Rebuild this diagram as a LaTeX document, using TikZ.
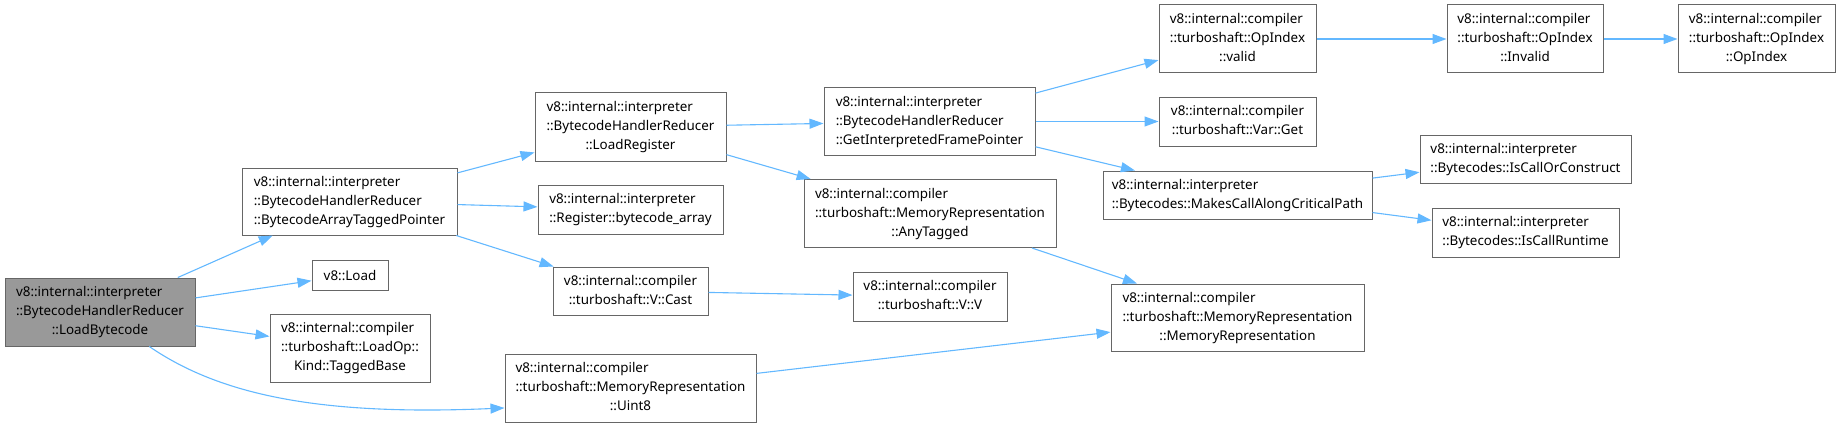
\documentclass[tikz,border=0pt]{standalone}
\usepackage{fontspec}
\setmainfont{Noto Sans}
\usepackage{tikz}
\usetikzlibrary{arrows.meta}

\definecolor{edgeblue}{HTML}{63B8FF}
\definecolor{boxgray}{HTML}{666666}
\definecolor{rootgray}{HTML}{999999}

% doxygen style label: left lines, last line centred
\newcommand{\fnlabel}[2]{\begin{tabular}{@{}l@{}}#1\\\multicolumn{1}{@{}c@{}}{#2}\end{tabular}}

\begin{document}
\begin{tikzpicture}[x=1pt, y=-1pt,
        fn/.style={draw=boxgray, line width=1pt, fill=white, inner sep=0pt,
            font=\fontsize{13.4}{19}\selectfont},
        root/.style={fill=rootgray},
        call/.style={->, draw=edgeblue, line width=1.1pt},
        >={Triangle[length=14pt, width=10pt]}]
        \useasboundingbox (0,0) rectangle (1840,428);

        % first column
        \node[fn, root, minimum width=190pt, minimum height=68pt] (lb) at (100,312)
            {\fnlabel{v8::internal::interpreter\\::BytecodeHandlerReducer}{::LoadBytecode}};

        % second column
        \node[fn, minimum width=215pt, minimum height=67pt] (batp) at (349.5,201.5)
            {\fnlabel{v8::internal::interpreter\\::BytecodeHandlerReducer}{::BytecodeArrayTaggedPointer}};
        \node[fn, minimum width=76pt, minimum height=30pt] (load) at (350,275) {v8::Load};
        \node[fn, minimum width=160pt, minimum height=68pt] (kind) at (350,348)
            {\fnlabel{v8::internal::compiler\\::turboshaft::LoadOp::}{Kind::TaggedBase}};

        % third column
        \node[fn, minimum width=191pt, minimum height=68pt] (lreg) at (630.5,127)
            {\fnlabel{v8::internal::interpreter\\::BytecodeHandlerReducer}{::LoadRegister}};
        \node[fn, minimum width=185pt, minimum height=49pt] (barr) at (630.5,209.5)
            {\fnlabel{v8::internal::interpreter}{::Register::bytecode\_array}};
        \node[fn, minimum width=155pt, minimum height=48pt] (vcast) at (630.5,291)
            {\fnlabel{v8::internal::compiler}{::turboshaft::V::Cast}};
        \node[fn, minimum width=251pt, minimum height=68pt] (uint8) at (630.5,388)
            {\fnlabel{v8::internal::compiler\\::turboshaft::MemoryRepresentation}{::Uint8}};

        % fourth column
        \node[fn, minimum width=211pt, minimum height=67pt] (gifp) at (929.5,121.5)
            {\fnlabel{v8::internal::interpreter\\::BytecodeHandlerReducer}{::GetInterpretedFramePointer}};
        \node[fn, minimum width=252pt, minimum height=68pt] (anyt) at (930,213.5)
            {\fnlabel{v8::internal::compiler\\::turboshaft::MemoryRepresentation}{::AnyTagged}};
        \node[fn, minimum width=154pt, minimum height=49pt] (vv) at (930,296.5)
            {\fnlabel{v8::internal::compiler}{::turboshaft::V::V}};

        % fifth column
        \node[fn, minimum width=157pt, minimum height=68pt] (valid) at (1237.5,39)
            {\fnlabel{v8::internal::compiler\\::turboshaft::OpIndex}{::valid}};
        \node[fn, minimum width=157pt, minimum height=49pt] (vget) at (1237.5,121.5)
            {\fnlabel{v8::internal::compiler}{::turboshaft::Var::Get}};
        \node[fn, minimum width=269pt, minimum height=48pt] (mcacp) at (1237.5,195)
            {\fnlabel{v8::internal::interpreter}{::Bytecodes::MakesCallAlongCriticalPath}};
        \node[fn, minimum width=253pt, minimum height=67pt] (mrep) at (1237.5,317.5)
            {\fnlabel{v8::internal::compiler\\::turboshaft::MemoryRepresentation}{::MemoryRepresentation}};

        % sixth and seventh columns
        \node[fn, minimum width=156pt, minimum height=68pt] (invalid) at (1525,39)
            {\fnlabel{v8::internal::compiler\\::turboshaft::OpIndex}{::Invalid}};
        \node[fn, minimum width=211pt, minimum height=48pt] (icoc) at (1525.5,159)
            {\fnlabel{v8::internal::interpreter}{::Bytecodes::IsCallOrConstruct}};
        \node[fn, minimum width=187pt, minimum height=49pt] (icrt) at (1525.5,232.5)
            {\fnlabel{v8::internal::interpreter}{::Bytecodes::IsCallRuntime}};
        \node[fn, minimum width=157pt, minimum height=68pt] (opidx) at (1756.5,39)
            {\fnlabel{v8::internal::compiler\\::turboshaft::OpIndex}{::OpIndex}};

        % calls
        \draw[call] (lb) -- (batp);
        \draw[call] (lb) -- (load);
        \draw[call] (lb) -- (kind);
        \draw[call] (lb.-35) .. controls (220,395) and (320,416) .. (uint8.189);
        \draw[call] (batp) -- (lreg);
        \draw[call] (batp) -- (barr);
        \draw[call] (batp) -- (vcast);
        \draw[call] (lreg) -- (gifp);
        \draw[call] (lreg) -- (anyt);
        \draw[call] (vcast) -- (vv);
        \draw[call] (uint8) -- (mrep);
        \draw[call] (anyt) -- (mrep);
        \draw[call] (gifp) -- (valid);
        \draw[call] (gifp) -- (vget);
        \draw[call] (gifp) -- (mcacp);
        \draw[call] (mcacp) -- (icoc);
        \draw[call] (mcacp) -- (icrt);
        \draw[call] (valid) -- (invalid);
        \draw[call] (invalid) -- (opidx);
\end{tikzpicture}
\end{document}
